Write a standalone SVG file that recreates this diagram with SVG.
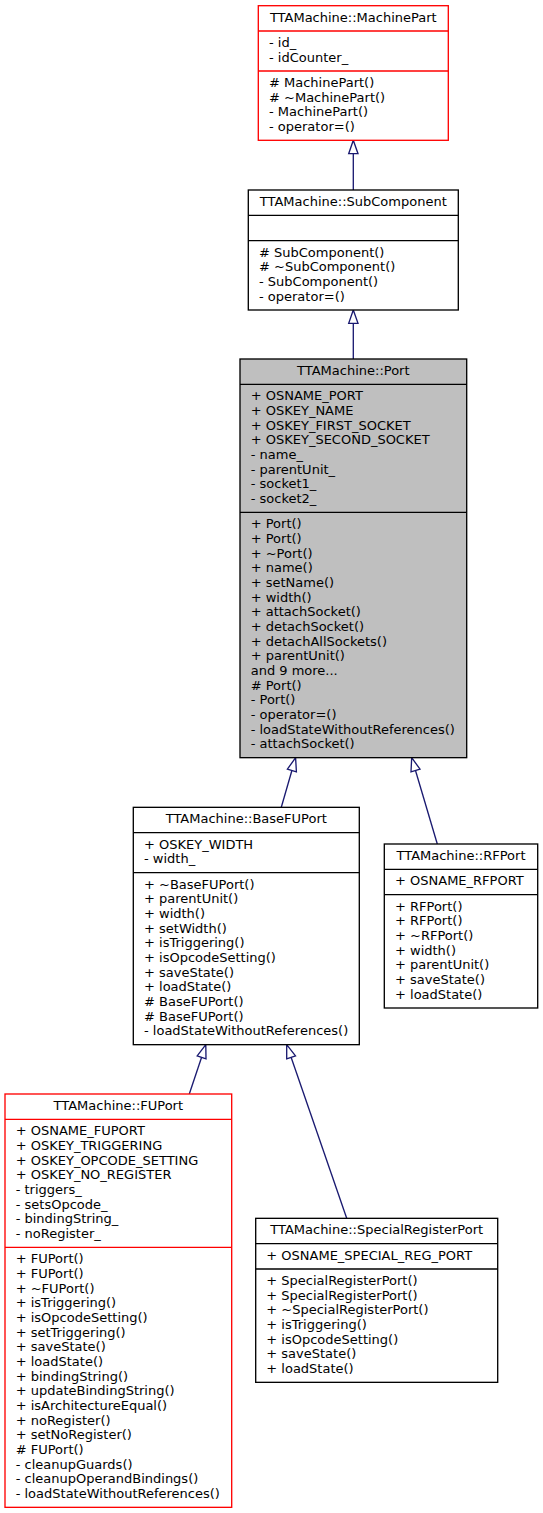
<svg xmlns="http://www.w3.org/2000/svg" width="543" height="1513" viewBox="0 0 543 1513">
<style>
text{font-family:"DejaVu Sans","Liberation Sans",sans-serif;font-size:13px;fill:#000}
.t{text-anchor:middle}
.box{fill:#fff;stroke:#000;stroke-width:1.33}
.red{fill:#fff;stroke:#ff0000;stroke-width:1.33}
.cur{fill:#bfbfbf;stroke:#000;stroke-width:1.33}
.dv{stroke:#000;stroke-width:1.33}
.dvr{stroke:#ff0000;stroke-width:1.33}
.e{fill:none;stroke:#191970;stroke-width:1.33}
.ah{fill:#fff;stroke:#191970;stroke-width:1.33}
</style>
<rect width="543" height="1513" fill="#fff"/>
<g id="connectors">
<path class="e" d="M353.3,190 L353.3,153.7"/>
<polygon class="ah" points="353.3,140.3 348.7,153.7 358,153.7"/>
<path class="e" d="M353.3,359 L353.3,323.3"/>
<polygon class="ah" points="353.3,310 348.7,323.3 358,323.3"/>
<path class="e" d="M281.3,807.3 L291.9,770.5"/>
<polygon class="ah" points="295.6,757.7 287.4,769.2 296.4,771.8"/>
<path class="e" d="M437.3,844 L415.5,770.5"/>
<polygon class="ah" points="411.7,757.7 420,769.2 411,771.8"/>
<path class="e" d="M189.3,1094 L201.6,1057.3"/>
<polygon class="ah" points="205.8,1044.7 197.2,1055.8 206,1058.8"/>
<path class="e" d="M346.7,1218.3 L291.1,1057.3"/>
<polygon class="ah" points="286.7,1044.7 295.5,1055.8 286.7,1058.8"/>
</g>
<g id="MachinePart">
<rect class="red" x="258.3" y="5.7" width="190" height="134.6"/>
<line class="dvr" x1="258.3" y1="31" x2="448.3" y2="31"/>
<line class="dvr" x1="258.3" y1="71" x2="448.3" y2="71"/>
<text class="t" x="353.3" y="21.7">TTAMachine::MachinePart</text>
<text x="269" y="47"><tspan x="269">- id_</tspan><tspan x="269" dy="14.667">- idCounter_</tspan></text>
<text x="269" y="87"><tspan x="269"># MachinePart()</tspan><tspan x="269" dy="14.667"># ~MachinePart()</tspan><tspan x="269" dy="14.667">- MachinePart()</tspan><tspan x="269" dy="14.667">- operator=()</tspan></text>
</g>
<g id="SubComponent">
<rect class="box" x="248.3" y="190" width="210" height="120"/>
<line class="dv" x1="248.3" y1="215.33" x2="458.3" y2="215.33"/>
<line class="dv" x1="248.3" y1="240.67" x2="458.3" y2="240.67"/>
<text class="t" x="353.3" y="206">TTAMachine::SubComponent</text>
<text x="259" y="256.67"><tspan x="259"># SubComponent()</tspan><tspan x="259" dy="14.667"># ~SubComponent()</tspan><tspan x="259" dy="14.667">- SubComponent()</tspan><tspan x="259" dy="14.667">- operator=()</tspan></text>
</g>
<g id="Port">
<rect class="cur" x="240" y="359" width="226.7" height="398.67"/>
<line class="dv" x1="240" y1="384.33" x2="466.7" y2="384.33"/>
<line class="dv" x1="240" y1="512.33" x2="466.7" y2="512.33"/>
<text class="t" x="353.3" y="375">TTAMachine::Port</text>
<text x="250.7" y="400.33"><tspan x="250.7">+ OSNAME_PORT</tspan><tspan x="250.7" dy="14.667">+ OSKEY_NAME</tspan><tspan x="250.7" dy="14.667">+ OSKEY_FIRST_SOCKET</tspan><tspan x="250.7" dy="14.667">+ OSKEY_SECOND_SOCKET</tspan><tspan x="250.7" dy="14.667">- name_</tspan><tspan x="250.7" dy="14.667">- parentUnit_</tspan><tspan x="250.7" dy="14.667">- socket1_</tspan><tspan x="250.7" dy="14.667">- socket2_</tspan></text>
<text x="250.7" y="528.33"><tspan x="250.7">+ Port()</tspan><tspan x="250.7" dy="14.667">+ Port()</tspan><tspan x="250.7" dy="14.667">+ ~Port()</tspan><tspan x="250.7" dy="14.667">+ name()</tspan><tspan x="250.7" dy="14.667">+ setName()</tspan><tspan x="250.7" dy="14.667">+ width()</tspan><tspan x="250.7" dy="14.667">+ attachSocket()</tspan><tspan x="250.7" dy="14.667">+ detachSocket()</tspan><tspan x="250.7" dy="14.667">+ detachAllSockets()</tspan><tspan x="250.7" dy="14.667">+ parentUnit()</tspan><tspan x="250.7" dy="14.667">and 9 more...</tspan><tspan x="250.7" dy="14.667"># Port()</tspan><tspan x="250.7" dy="14.667">- Port()</tspan><tspan x="250.7" dy="14.667">- operator=()</tspan><tspan x="250.7" dy="14.667">- loadStateWithoutReferences()</tspan><tspan x="250.7" dy="14.667">- attachSocket()</tspan></text>
</g>
<g id="BaseFUPort">
<rect class="box" x="133.3" y="807.33" width="226" height="237.34"/>
<line class="dv" x1="133.3" y1="832.67" x2="359.3" y2="832.67"/>
<line class="dv" x1="133.3" y1="872.67" x2="359.3" y2="872.67"/>
<text class="t" x="246.3" y="823.33">TTAMachine::BaseFUPort</text>
<text x="144" y="848.67"><tspan x="144">+ OSKEY_WIDTH</tspan><tspan x="144" dy="14.667">- width_</tspan></text>
<text x="144" y="888.67"><tspan x="144">+ ~BaseFUPort()</tspan><tspan x="144" dy="14.667">+ parentUnit()</tspan><tspan x="144" dy="14.667">+ width()</tspan><tspan x="144" dy="14.667">+ setWidth()</tspan><tspan x="144" dy="14.667">+ isTriggering()</tspan><tspan x="144" dy="14.667">+ isOpcodeSetting()</tspan><tspan x="144" dy="14.667">+ saveState()</tspan><tspan x="144" dy="14.667">+ loadState()</tspan><tspan x="144" dy="14.667"># BaseFUPort()</tspan><tspan x="144" dy="14.667"># BaseFUPort()</tspan><tspan x="144" dy="14.667">- loadStateWithoutReferences()</tspan></text>
</g>
<g id="RFPort">
<rect class="box" x="384.3" y="844" width="153.4" height="164"/>
<line class="dv" x1="384.3" y1="869.33" x2="537.7" y2="869.33"/>
<line class="dv" x1="384.3" y1="894.67" x2="537.7" y2="894.67"/>
<text class="t" x="461" y="860">TTAMachine::RFPort</text>
<text x="395" y="885.33">+ OSNAME_RFPORT</text>
<text x="395" y="910.67"><tspan x="395">+ RFPort()</tspan><tspan x="395" dy="14.667">+ RFPort()</tspan><tspan x="395" dy="14.667">+ ~RFPort()</tspan><tspan x="395" dy="14.667">+ width()</tspan><tspan x="395" dy="14.667">+ parentUnit()</tspan><tspan x="395" dy="14.667">+ saveState()</tspan><tspan x="395" dy="14.667">+ loadState()</tspan></text>
</g>
<g id="FUPort">
<rect class="red" x="5" y="1094" width="226.7" height="413.33"/>
<line class="dvr" x1="5" y1="1119.33" x2="231.7" y2="1119.33"/>
<line class="dvr" x1="5" y1="1247.33" x2="231.7" y2="1247.33"/>
<text class="t" x="118.3" y="1110">TTAMachine::FUPort</text>
<text x="15.7" y="1135.33"><tspan x="15.7">+ OSNAME_FUPORT</tspan><tspan x="15.7" dy="14.667">+ OSKEY_TRIGGERING</tspan><tspan x="15.7" dy="14.667">+ OSKEY_OPCODE_SETTING</tspan><tspan x="15.7" dy="14.667">+ OSKEY_NO_REGISTER</tspan><tspan x="15.7" dy="14.667">- triggers_</tspan><tspan x="15.7" dy="14.667">- setsOpcode_</tspan><tspan x="15.7" dy="14.667">- bindingString_</tspan><tspan x="15.7" dy="14.667">- noRegister_</tspan></text>
<text x="15.7" y="1263.33"><tspan x="15.7">+ FUPort()</tspan><tspan x="15.7" dy="14.667">+ FUPort()</tspan><tspan x="15.7" dy="14.667">+ ~FUPort()</tspan><tspan x="15.7" dy="14.667">+ isTriggering()</tspan><tspan x="15.7" dy="14.667">+ isOpcodeSetting()</tspan><tspan x="15.7" dy="14.667">+ setTriggering()</tspan><tspan x="15.7" dy="14.667">+ saveState()</tspan><tspan x="15.7" dy="14.667">+ loadState()</tspan><tspan x="15.7" dy="14.667">+ bindingString()</tspan><tspan x="15.7" dy="14.667">+ updateBindingString()</tspan><tspan x="15.7" dy="14.667">+ isArchitectureEqual()</tspan><tspan x="15.7" dy="14.667">+ noRegister()</tspan><tspan x="15.7" dy="14.667">+ setNoRegister()</tspan><tspan x="15.7" dy="14.667"># FUPort()</tspan><tspan x="15.7" dy="14.667">- cleanupGuards()</tspan><tspan x="15.7" dy="14.667">- cleanupOperandBindings()</tspan><tspan x="15.7" dy="14.667">- loadStateWithoutReferences()</tspan></text>
</g>
<g id="SpecialRegisterPort">
<rect class="box" x="255.7" y="1218.33" width="242" height="164"/>
<line class="dv" x1="255.7" y1="1243.67" x2="497.7" y2="1243.67"/>
<line class="dv" x1="255.7" y1="1269" x2="497.7" y2="1269"/>
<text class="t" x="376.7" y="1234.33">TTAMachine::SpecialRegisterPort</text>
<text x="266.3" y="1259.67">+ OSNAME_SPECIAL_REG_PORT</text>
<text x="266.3" y="1285"><tspan x="266.3">+ SpecialRegisterPort()</tspan><tspan x="266.3" dy="14.667">+ SpecialRegisterPort()</tspan><tspan x="266.3" dy="14.667">+ ~SpecialRegisterPort()</tspan><tspan x="266.3" dy="14.667">+ isTriggering()</tspan><tspan x="266.3" dy="14.667">+ isOpcodeSetting()</tspan><tspan x="266.3" dy="14.667">+ saveState()</tspan><tspan x="266.3" dy="14.667">+ loadState()</tspan></text>
</g>
</svg>
